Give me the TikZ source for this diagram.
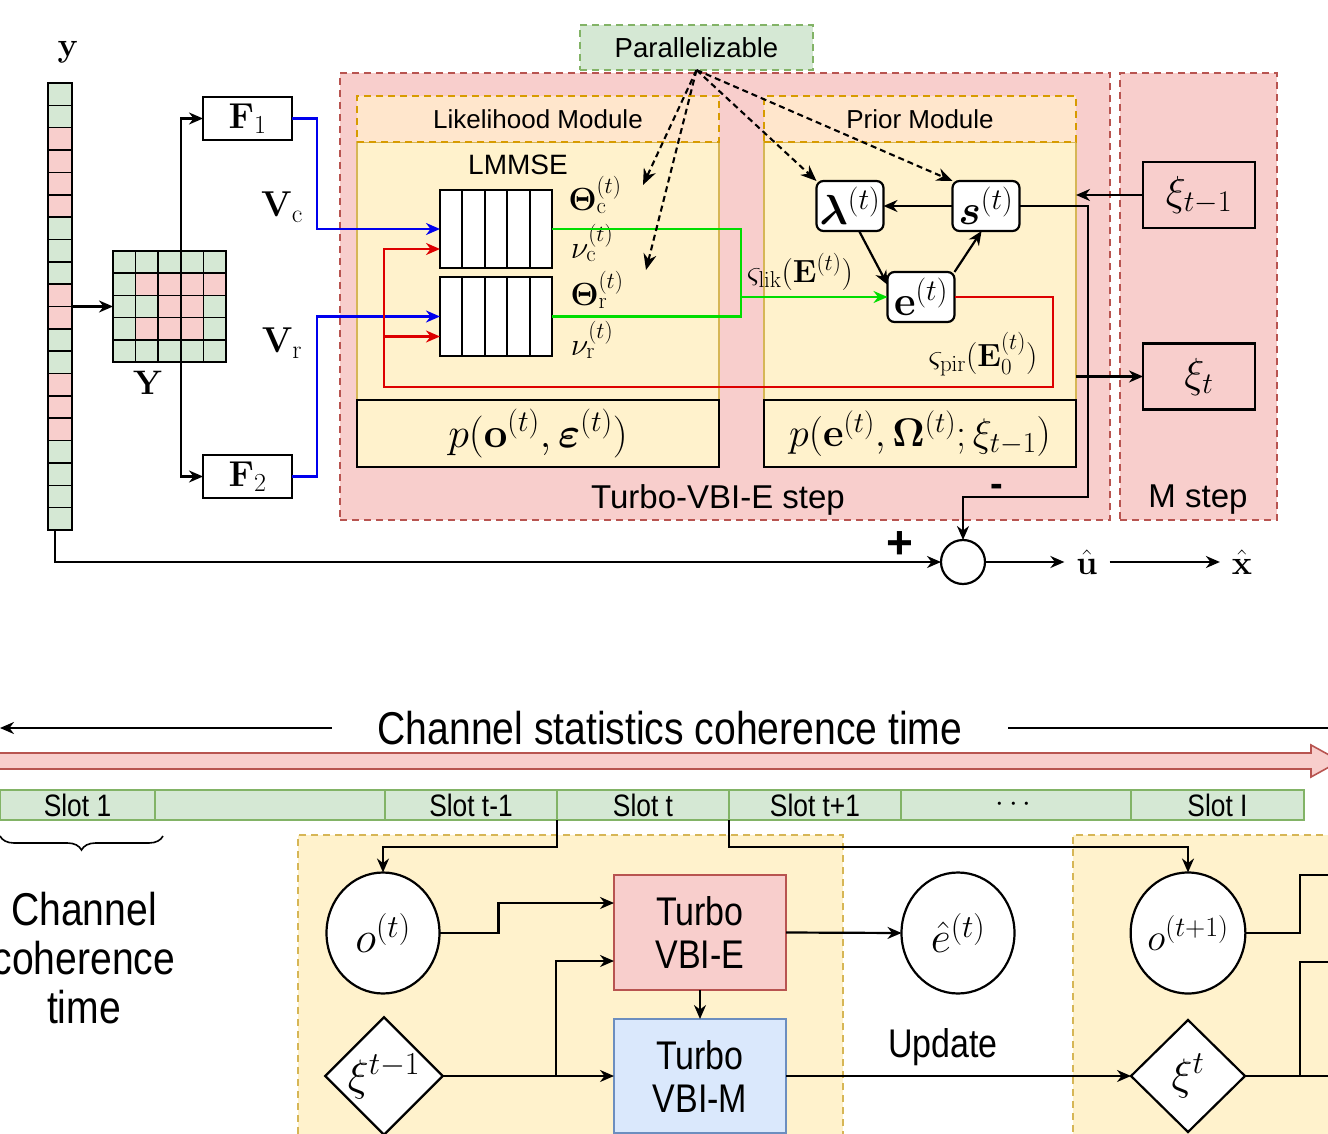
\RequirePackage{fix-cm}
\documentclass[tikz,border=0pt]{standalone}
\usepackage{amsmath,bm}
\usepackage[no-math]{fontspec}
\setmainfont{Liberation Sans}
\usetikzlibrary{arrows.meta,shapes.geometric,decorations.pathreplacing,calc}
\DeclareMathSizes{30}{30}{22}{16}
\DeclareMathSizes{32}{32}{23}{17}
\DeclareMathSizes{34}{34}{25}{18}
\DeclareMathSizes{36}{36}{26}{19}
\DeclareMathSizes{38}{38}{28}{20}
\DeclareMathSizes{40}{40}{29}{21}
\DeclareMathSizes{42}{42}{30}{22}
\DeclareMathSizes{44}{44}{32}{23}
\definecolor{pinkF}{HTML}{F8CECC}
\definecolor{pinkD}{HTML}{B85450}
\definecolor{greenF}{HTML}{D5E8D4}
\definecolor{greenD}{HTML}{82B366}
\definecolor{yelF}{HTML}{FFF2CC}
\definecolor{yelD}{HTML}{D6B656}
\definecolor{oraF}{HTML}{FFE6CC}
\definecolor{oraD}{HTML}{D79B00}
\definecolor{bluF}{HTML}{DAE8FC}
\definecolor{bluD}{HTML}{6C8EBF}
\definecolor{lineBlue}{HTML}{0000EE}
\definecolor{lineRed}{HTML}{DD0000}
\definecolor{lineGreen}{HTML}{00DD00}
\newcommand{\fsz}[1]{\fontsize{#1}{#1}\selectfont}
\newcommand{\sq}[1]{\scalebox{0.85}[1]{#1}}
\begin{document}
\begin{tikzpicture}[x=1pt,y=-1pt,
  every node/.style={inner sep=0pt,outer sep=0pt},
  ln/.style={line width=2.2pt},
  arr/.style={line width=2.2pt,-{Stealth[length=14pt,width=12pt]}},
  darr/.style={line width=2.1pt,dash pattern=on 6pt off 4pt,-{Stealth[length=16pt,width=13pt]}},
  region/.style={draw=pinkD,fill=pinkF,dash pattern=on 7pt off 5pt,line width=1.6pt,anchor=north west},
  modhead/.style={draw=oraD,fill=oraF,dash pattern=on 7pt off 5pt,line width=1.5pt,anchor=north west},
  modbody/.style={draw=yelD,fill=yelF,line width=1.2pt,anchor=north west},
  pbox/.style={draw,fill=yelF,line width=2.2pt,anchor=north west},
  wbox/.style={draw,fill=white,line width=2.2pt},
  rbox/.style={draw,fill=white,line width=2.2pt,rounded corners=7pt,minimum width=67pt,minimum height=50pt},
  sbox/.style={draw,fill=pinkF,line width=2.2pt,minimum width=112pt,minimum height=66pt},
  slot/.style={draw=greenD,fill=greenF,line width=1.6pt,minimum height=30pt,font=\fsz{31}},
  circ/.style={ellipse,draw,fill=white,line width=2.2pt,minimum width=113pt,minimum height=121pt,font=\fsz{44}},
  diam/.style={diamond,draw,fill=white,line width=2.2pt,minimum width=114pt,minimum height=112pt,font=\fsz{44}},
  bl/.style={draw=lineBlue,line width=2.2pt,-{Stealth[length=14pt,width=12pt]}},
  rl/.style={draw=lineRed,line width=2.2pt,-{Stealth[length=14pt,width=12pt]}},
  gl/.style={draw=lineGreen,line width=2.2pt},
]
\useasboundingbox (0,0) rectangle (1328,1134);
\fill[white] (0,0) rectangle (1328,1134);

% ---------------- regions
\node[region,minimum width=770pt,minimum height=447pt] (estep) at (340,73) {};
\node[region,minimum width=157pt,minimum height=447pt] (mstep) at (1120,73) {};
\node[font=\fsz{33}] (elab) at (718,500) {Turbo-VBI-E step};
\node[font=\fsz{33}] (mlab) at (1198,500) {M step};

\node[modbody,minimum width=362pt,minimum height=258pt] (lbody) at (357,142) {};
\node[modhead,minimum width=362pt,minimum height=46pt,font=\fsz{26}] (lhead) at (357,96) {Likelihood Module};
\node[modbody,minimum width=312pt,minimum height=258pt] (pbody) at (764,142) {};
\node[modhead,minimum width=312pt,minimum height=46pt,font=\fsz{26}] (phead) at (764,96) {Prior Module};
\node[pbox,minimum width=362pt,minimum height=67pt,font=\fsz{42}] (plik) at (357,400) {$p(\mathbf{o}^{(t)},\bm{\varepsilon}^{(t)})$};
\node[pbox,minimum width=312pt,minimum height=67pt,font=\fsz{40}] (ppri) at (764,400) {$p(\mathbf{e}^{(t)},\mathbf{\Omega}^{(t)};\xi_{t-1})$};

% ---------------- y vector
\foreach \i in {0,...,19}{
  \pgfmathsetmacro\ya{83+\i*22.35}
  \pgfmathsetmacro\yb{\ya+22.35}
  \fill[greenF] (48,\ya) rectangle (72,\yb);
}
\foreach \i in {2,3,4,5,9,10,13,14,15}{
  \pgfmathsetmacro\ya{83+\i*22.35}
  \pgfmathsetmacro\yb{\ya+22.35}
  \fill[pinkF] (48,\ya) rectangle (72,\yb);
}
\foreach \i in {1,...,19}{
  \pgfmathsetmacro\ya{83+\i*22.35}
  \draw[line width=1.6pt] (48,\ya) -- (72,\ya);
}
\node[draw,line width=2pt,minimum width=24pt,minimum height=447pt] (yv) at (60,306.5) {};
\node[font=\fsz{34}] (ylab) at (68,52) {$\mathbf{y}$};

% ---------------- Y matrix
\fill[greenF] (113,251) rectangle (226,362);
\foreach \c/\r in {1/1,2/1,3/1,4/1,2/2,3/2,1/3,2/3,3/3}{
  \pgfmathsetmacro\xa{113+\c*22.6}
  \pgfmathsetmacro\xb{\xa+22.6}
  \pgfmathsetmacro\ya{251+\r*22.2}
  \pgfmathsetmacro\yb{\ya+22.2}
  \fill[pinkF] (\xa,\ya) rectangle (\xb,\yb);
}
\foreach \k in {1,...,4}{
  \pgfmathsetmacro\xa{113+\k*22.6}
  \pgfmathsetmacro\ya{251+\k*22.2}
  \draw[line width=1.6pt] (\xa,251) -- (\xa,362);
  \draw[line width=1.6pt] (113,\ya) -- (226,\ya);
}
\node[draw,line width=2pt,minimum width=113pt,minimum height=111pt] (Ym) at (169.5,306.5) {};
\node[font=\fsz{34}] (Ylab) at (148,383) {$\mathbf{Y}$};

\node[wbox,minimum width=89pt,minimum height=43pt,font=\fsz{36}] (F1) at (247.5,118.5) {$\mathbf{F}_1$};
\node[wbox,minimum width=89pt,minimum height=43pt,font=\fsz{36}] (F2) at (247.5,476.5) {$\mathbf{F}_2$};
\node[font=\fsz{36}] (Vc) at (282,207) {$\mathbf{V}_{\mathrm{c}}$};
\node[font=\fsz{36}] (Vr) at (282,343) {$\mathbf{V}_{\mathrm{r}}$};

\draw[arr] (yv.east) -- (Ym.west);
\draw[arr] ($(Ym.north west)!0.6!(Ym.north east)$) |- (F1.west);
\draw[arr] ($(Ym.south west)!0.6!(Ym.south east)$) |- (F2.west);

% ---------------- likelihood module
\node[font=\fsz{28}] (lmmse) at (518,165) {LMMSE};
\node[wbox,minimum width=112pt,minimum height=78pt] (lm1) at (496,229) {};
\node[wbox,minimum width=112pt,minimum height=79pt] (lm2) at (496,316.5) {};
\foreach \k in {1,...,4}{
  \draw[line width=2pt] ($(lm1.north west)!\k/5!(lm1.north east)$) -- ($(lm1.south west)!\k/5!(lm1.south east)$);
  \draw[line width=2pt] ($(lm2.north west)!\k/5!(lm2.north east)$) -- ($(lm2.south west)!\k/5!(lm2.south east)$);
}
\node[font=\fsz{32}] (thc) at (595,195) {$\mathbf{\Theta}_{\mathrm{c}}^{(t)}$};
\node[font=\fsz{32}] (nuc) at (592,243) {$\nu_{\mathrm{c}}^{(t)}$};
\node[font=\fsz{32}] (thr) at (597,290) {$\mathbf{\Theta}_{\mathrm{r}}^{(t)}$};
\node[font=\fsz{32}] (nur) at (592,340) {$\nu_{\mathrm{r}}^{(t)}$};

% ---------------- prior module
\node[rbox,font=\fsz{42}] (lam) at (850,206) {$\bm{\lambda}^{(t)}$};
\node[rbox,font=\fsz{42}] (sn) at (986,206) {$\bm{s}^{(t)}$};
\node[rbox,font=\fsz{42}] (en) at (921,297) {$\mathbf{e}^{(t)}$};
\draw[arr] (sn.west) -- (lam.east);
\draw[arr] (lam.-70) -- (en.160);
\draw[arr] (en.north east) -- (sn.-100);
\node[font=\fsz{32}] (slik) at (800,272) {$\varsigma_{\mathrm{lik}}(\mathbf{E}^{(t)})$};
\node[font=\fsz{32}] (spir) at (983,354) {$\varsigma_{\mathrm{pir}}(\mathbf{E}_0^{(t)})$};

% ---------------- M step boxes
\node[sbox,font=\fsz{42}] (xim) at (1199,195) {$\xi_{t-1}$};
\node[sbox,font=\fsz{42}] (xit) at (1199,376.5) {$\xi_t$};
\draw[arr] (xim.west) -- (pbody.east |- xim.west);
\draw[arr] (pbody.east |- xit.west) -- (xit.west);

% ---------------- coloured connectors
\draw[bl] (F1.east) -- ++(25,0) |- (lm1.west);
\draw[bl] (F2.east) -- ++(25,0) |- (lm2.west);
\coordinate (rA) at (1053,387);
\coordinate (rB) at (384,387);
\coordinate (rC) at (384,336.5);
\draw[rl] (en.east) -| (rA) -- (rB) |- ($(lm1.west)+(0,20)$);
\draw[rl] (rC) -- ($(lm2.west)+(0,20)$);
\coordinate (gB) at (741,316.5);
\draw[gl] (lm1.east) -| (gB) -- (lm2.east);
\draw[gl,-{Stealth[length=14pt,width=12pt]}] (gB |- en.west) -- (en.west);

% ---------------- parallelizable
\node[draw=greenD,fill=greenF,dash pattern=on 7pt off 5pt,line width=1.5pt,minimum width=233pt,minimum height=45pt,font=\fsz{27.5}] (par) at (696.5,47.5) {Parallelizable};
\coordinate (pt1) at (643,185);
\coordinate (pt2) at (646,270);
\draw[darr] (par.south) -- (pt1);
\draw[darr] (par.south) -- (pt2);
\draw[darr] (par.south) -- (lam.north west);
\draw[darr] (par.south) -- (sn.north west);

% ---------------- summation
\node[circle,draw,fill=white,line width=2.2pt,minimum size=44pt] (sum) at (963,562) {};
\coordinate (bk) at (1088,497);
\draw[arr] (sn.east) -| (bk) -| (sum.north);
\draw[arr] ($(yv.south)+(-5,0)$) |- (sum.west);
\node[font=\fsz{34},inner sep=12pt] (uh) at (1087,562) {$\hat{\mathbf{u}}$};
\node[font=\fsz{34},inner sep=12pt] (xh) at (1242,562) {$\hat{\mathbf{x}}$};
\draw[arr] (sum.east) -- (uh.west);
\draw[arr] (uh.east) -- (xh.west);
\node[font=\bfseries\fsz{46}] (plus) at (900,545) {+};
\node[font=\bfseries\fsz{38}] (minus) at (997,490) {-};

% ================= bottom part
\node[font=\fsz{46},inner xsep=46pt] (cst) at (670,728) {\sq{Channel statistics coherence time}};
\coordinate (cstL) at (0,728);
\coordinate (cstR) at (1330,728);
\draw[arr] (cst.west) -- (cstL);
\draw[ln] (cst.east) -- (cstR);
\draw[draw=pinkD,fill=pinkF,line width=1.6pt] (-5,753) -- (1311,753) -- (1311,745) -- (1340,761) -- (1311,777) -- (1311,769) -- (-5,769) -- cycle;

\node[slot,minimum width=155pt] (s1) at (77.5,805) {\sq{Slot 1}};
\node[slot,minimum width=230pt] (s2) at (270,805) {};
\node[slot,minimum width=172pt] (s3) at (471,805) {\sq{Slot t-1}};
\node[slot,minimum width=172pt] (s4) at (643,805) {\sq{Slot t}};
\node[slot,minimum width=172pt] (s5) at (815,805) {\sq{Slot t+1}};
\node[slot,minimum width=230pt] (s6) at (1016,805) {$\cdots$};
\node[slot,minimum width=173pt] (s7) at (1217.5,805) {\sq{Slot I}};

\draw[line width=1.6pt,decorate,decoration={brace,amplitude=14pt,mirror}] (0,836) -- (163,836);
\node[font=\fontsize{46}{49}\selectfont,align=center] (cct) at (84,958) {\sq{Channel}\\\sq{coherence}\\\sq{time}};

\node[draw=yelD,fill=yelF,dash pattern=on 7pt off 5pt,line width=1.6pt,anchor=north west,minimum width=545pt,minimum height=310pt] (yb1) at (298,835) {};
\node[draw=yelD,fill=yelF,dash pattern=on 7pt off 5pt,line width=1.6pt,anchor=north west,minimum width=270pt,minimum height=310pt] (yb2) at (1073,835) {};

\node[circ] (ot) at (383,933) {$o^{(t)}$};
\node[diam] (xtm) at (384,1076) {$\xi^{t-1}$};
\node[draw=pinkD,fill=pinkF,line width=2.2pt,minimum width=172pt,minimum height=115pt,font=\fontsize{40}{43}\selectfont,align=center] (vbe) at (700,932.5) {\sq{Turbo}\\\sq{VBI-E}};
\node[draw=bluD,fill=bluF,line width=2.2pt,minimum width=172pt,minimum height=114pt,font=\fontsize{40}{43}\selectfont,align=center] (vbm) at (700,1076) {\sq{Turbo}\\\sq{VBI-M}};
\node[circ] (eh) at (958,933) {$\hat{e}^{(t)}$};
\node[circ,font=\fsz{38}] (otp) at (1188,933) {$o^{(t+1)}$};
\node[diam] (xt) at (1188,1076) {$\xi^{t}$};
\node[font=\fsz{40}] (upd) at (943,1047) {\sq{Update}};

\draw[arr] (s4.south west) -- ++(0,27) -| (ot.north);
\draw[arr] (s5.south west) -- ++(0,27) -| (otp.north);
\draw[arr] (ot.east) -- ++(59,0) |- ($(vbe.west)+(0,-29.5)$);
\draw[arr] (xtm.east) -- (vbm.west);
\coordinate (jn) at (556,1076);
\draw[arr] (jn) |- ($(vbe.west)+(0,28.5)$);
\draw[arr] (vbe.east) -- (eh.west);
\draw[arr] (vbe.south) -- (vbm.north);
\draw[arr] (vbm.east) -- (xt.west);
\coordinate (oR) at (1335,875);
\coordinate (xR) at (1335,1076);
\coordinate (xR2) at (1335,962);
\coordinate (jn2) at (1300,1076);
\draw[ln] (otp.east) -- ++(55,0) |- (oR);
\draw[ln] (xt.east) -- (xR);
\draw[ln] (jn2) |- (xR2);
\end{tikzpicture}
\end{document}
